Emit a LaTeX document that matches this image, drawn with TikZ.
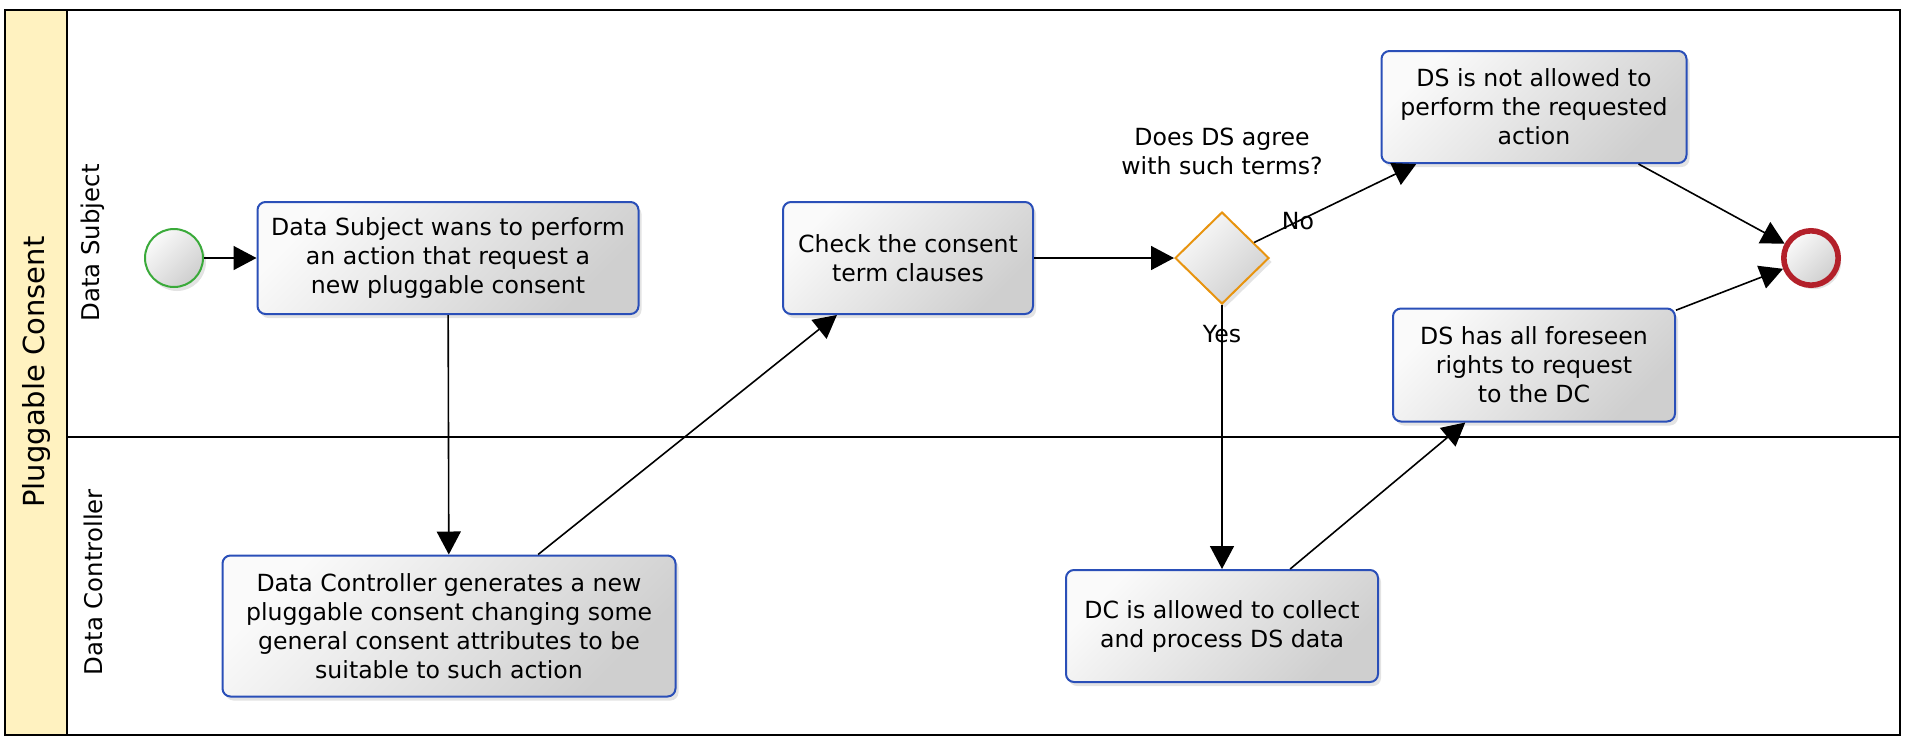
\documentclass[tikz,border=0pt]{standalone}
\usepackage{fontspec}
\setmainfont{DejaVu Sans}
\usetikzlibrary{arrows.meta,positioning,shapes.geometric,shadows}
\definecolor{taskblue}{HTML}{2A4FB8}
\definecolor{gateorange}{HTML}{E8940F}
\definecolor{startgreen}{HTML}{3AAA3A}
\definecolor{endred}{HTML}{B3202A}
\definecolor{poolyellow}{HTML}{FFF2C0}

\begin{document}
\begin{tikzpicture}[x=0.5pt,y=-0.5pt,>={Triangle[length=11.5pt,width=12pt]},line width=0.8pt,
  txt/.style={font=\fontsize{11.8}{14.5}\selectfont,align=center},
  shade3d/.style={top color=gray!4,bottom color=gray!38,shading angle=45,drop shadow={opacity=0.22,shadow xshift=1.5pt,shadow yshift=-2pt}},
  task/.style={txt,shade3d,draw=taskblue,line width=1pt,rounded corners=4pt,inner sep=2pt},
  gate/.style={shade3d,draw=gateorange,line width=1pt,diamond,minimum width=47pt,minimum height=46pt,inner sep=0pt},
  lane/.style={font=\fontsize{12.2}{14}\selectfont,rotate=90}]
\useasboundingbox (0,0) rectangle (1908,746);
% pool and lanes
\fill[poolyellow] (5,10) rectangle (67,735);
\draw[line width=1.4pt] (5,10) rectangle (1900,735);
\draw[line width=1.3pt] (67,10) -- (67,735) (67,437) -- (1900,437);
\node[font=\fontsize{14.5}{16}\selectfont,rotate=90] (pool) at (36,372) {Pluggable Consent};
\node[lane] (ds) at (93,243) {Data Subject};
\node[lane] (dc) at (93,582) {Data Controller};

% flow
\node[shade3d,draw=startgreen,line width=1pt,circle,minimum size=29pt,inner sep=0pt] (st) at (174,258) {};
\node[task,minimum width=190.5pt,minimum height=56pt] (a) at (448,258) {Data Subject wans to perform\\an action that request a\\new pluggable consent};
\node[task,minimum width=226.5pt,minimum height=70.5pt] (b) at (449,626) {Data Controller generates a new\\pluggable consent changing some\\general consent attributes to be\\suitable to such action};
\node[task,minimum width=125pt,minimum height=56pt] (c) at (908,258) {Check the consent\\term clauses};
\node[gate] (g) at (1222,258) {};
\node[txt] (q) at (1222,151) {Does DS agree\\with such terms?};
\node[task,minimum width=152.5pt,minimum height=56pt] (d) at (1534,107) {DS is not allowed to\\perform the requested\\action};
\node[task,minimum width=156pt,minimum height=56pt] (e) at (1222,626) {DC is allowed to collect\\and process DS data};
\node[task,minimum width=141pt,minimum height=56.5pt] (f) at (1534,365) {DS has all foreseen\\rights to request\\to the DC};
\node[shade3d,draw=endred,line width=2.8pt,circle,minimum size=27.2pt,inner sep=0pt] (en) at (1811,258) {};

\draw[->] (st)--(a);\draw[->] (a)--(b);\draw[->] (b)--(c);\draw[->] (c)--(g);
\draw[->] (g)--(d) node[txt,pos=.27] {No};\draw[->] (g)--(e) node[txt,pos=.11] {Yes};
\draw[->] (e)--(f);\draw[->] (d)--(en);\draw[->] (f)--(en);
\end{tikzpicture}
\end{document}
